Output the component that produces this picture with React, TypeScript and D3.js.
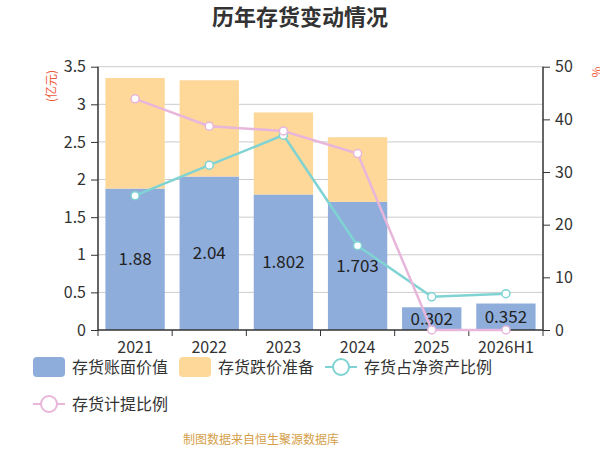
import React, { useEffect, useRef } from "react";
import * as d3 from "d3";

const categories = ["2021", "2022", "2023", "2024", "2025", "2026H1"];
const bookValue = [1.88, 2.04, 1.802, 1.703, 0.302, 0.352];
const impairment = [1.47, 1.28, 1.09, 0.86, 0, 0];
const netAssetRatio = [25.5, 31.3, 37.0, 16.0, 6.3, 6.9];
const provisionRatio = [43.9, 38.7, 37.8, 33.5, 0, 0];
const leftTicks = [0, 0.5, 1, 1.5, 2, 2.5, 3, 3.5];
const rightTicks = [0, 10, 20, 30, 40, 50];

const FONT = "'Noto Sans CJK SC', 'Noto Sans', sans-serif";
const BLUE = "#8eaddb";
const ORANGE = "#fed899";
const TEAL = "#7fd3d3";
const PINK = "#e8b6da";

const App = () => {
  const svgRef = useRef<SVGSVGElement>(null);
  const svgWidth = 600;
  const svgHeight = 450;

  useEffect(() => {
    const MARGIN = { TOP: 66.7, LEFT: 98, RIGHT: 57, BOTTOM: 120 };
    const svg = d3.select(svgRef.current);
    svg.selectAll("*").remove();
    const bottom = svgHeight - MARGIN.BOTTOM;
    const right = svgWidth - MARGIN.RIGHT;

    // category slots fill the axis; bars take 80% of each slot
    const x = d3
      .scaleBand()
      .domain(categories)
      .range([MARGIN.LEFT, right])
      .paddingInner(0.2)
      .paddingOuter(0.1);
    const y = d3.scaleLinear().domain([0, 3.5]).range([bottom, MARGIN.TOP]);
    const y2 = d3.scaleLinear().domain([0, 50]).range([bottom, MARGIN.TOP]);

    // title
    svg
      .append("text")
      .attr("x", 300)
      .attr("y", 25)
      .attr("text-anchor", "middle")
      .attr("font-size", 22)
      .attr("font-weight", "bold")
      .attr("fill", "#333")
      .attr("font-family", FONT)
      .text("历年存货变动情况");

    // grid
    svg
      .append("g")
      .selectAll("line")
      .data(leftTicks.slice(1))
      .enter()
      .append("line")
      .attr("x1", MARGIN.LEFT)
      .attr("x2", right)
      .attr("y1", (d) => y(d))
      .attr("y2", (d) => y(d))
      .attr("stroke", "#ccc")
      .attr("stroke-width", 1);

    // bars
    const bars = svg.append("g");
    bars
      .selectAll("rect.book")
      .data(categories)
      .enter()
      .append("rect")
      .attr("x", (d) => x(d)!)
      .attr("width", x.bandwidth())
      .attr("y", (_, i) => y(bookValue[i]))
      .attr("height", (_, i) => bottom - y(bookValue[i]))
      .attr("fill", BLUE);
    bars
      .selectAll("rect.imp")
      .data(categories)
      .enter()
      .append("rect")
      .attr("x", (d) => x(d)!)
      .attr("width", x.bandwidth())
      .attr("y", (_, i) => y(bookValue[i] + impairment[i]))
      .attr("height", (_, i) => y(bookValue[i]) - y(bookValue[i] + impairment[i]))
      .attr("fill", ORANGE);

    bars
      .selectAll("text")
      .data(categories)
      .enter()
      .append("text")
      .attr("x", (d) => x(d)! + x.bandwidth() / 2)
      .attr("y", (_, i) => y(bookValue[i] / 2))
      .attr("dy", "0.35em")
      .attr("text-anchor", "middle")
      .attr("font-size", 17)
      .attr("fill", "#222")
      .attr("font-family", FONT)
      .text((_, i) => String(bookValue[i]));

    // left axis
    const left = svg.append("g").attr("transform", `translate(${MARGIN.LEFT},0)`);
    left.call(d3.axisLeft(y).tickValues(leftTicks).tickSize(7).tickPadding(5).tickFormat((d) => String(d)));
    left.select(".domain").attr("stroke", "#333").attr("stroke-width", 1.5).attr("d", `M0,${bottom}V${MARGIN.TOP}`);
    left.selectAll("line").attr("stroke", "#333");
    left.selectAll("text").attr("font-size", 16).attr("fill", "#333").attr("font-family", FONT);

    // right axis
    const rightAx = svg.append("g").attr("transform", `translate(${right},0)`);
    rightAx.call(d3.axisRight(y2).tickValues(rightTicks).tickSize(7).tickPadding(5));
    rightAx.select(".domain").attr("stroke", "#333").attr("stroke-width", 1.5).attr("d", `M0,${bottom}V${MARGIN.TOP}`);
    rightAx.selectAll("line").attr("stroke", "#333");
    rightAx.selectAll("text").attr("font-size", 16).attr("fill", "#333").attr("font-family", FONT);

    // bottom axis
    const bx = svg.append("g").attr("transform", `translate(0,${bottom})`);
    bx.append("line").attr("x1", MARGIN.LEFT).attr("x2", right).attr("stroke", "#333").attr("stroke-width", 1.5);
    const slot = (right - MARGIN.LEFT) / categories.length;
    bx.selectAll("line.tick")
      .data(d3.range(categories.length + 1))
      .enter()
      .append("line")
      .attr("x1", (i) => MARGIN.LEFT + i * slot)
      .attr("x2", (i) => MARGIN.LEFT + i * slot)
      .attr("y1", 0)
      .attr("y2", 6)
      .attr("stroke", "#333");
    bx.selectAll("text")
      .data(categories)
      .enter()
      .append("text")
      .attr("x", (d) => x(d)! + x.bandwidth() / 2)
      .attr("y", 23)
      .attr("text-anchor", "middle")
      .attr("font-size", 16)
      .attr("fill", "#333")
      .attr("font-family", FONT)
      .text((d) => d);

    // units
    svg
      .append("text")
      .attr("transform", `translate(56,86) rotate(-90)`)
      .attr("text-anchor", "middle")
      .attr("font-size", 12)
      .attr("fill", "#ec5a3c")
      .attr("font-family", FONT)
      .text("(亿元)");
    svg
      .append("text")
      .attr("transform", `translate(601,72) rotate(-90)`)
      .attr("text-anchor", "middle")
      .attr("font-size", 12)
      .attr("fill", "#ec5a3c")
      .attr("font-family", FONT)
      .text("%");

    // lines
    const drawLine = (vals: number[], color: string) => {
      const g = svg.append("g");
      const line = d3
        .line<number>()
        .x((_, i) => x(categories[i])! + x.bandwidth() / 2)
        .y((d) => y2(d));
      g.append("path").attr("d", line(vals)).attr("fill", "none").attr("stroke", color).attr("stroke-width", 2.5);
      g.selectAll("circle")
        .data(vals)
        .enter()
        .append("circle")
        .attr("cx", (_, i) => x(categories[i])! + x.bandwidth() / 2)
        .attr("cy", (d) => y2(d))
        .attr("r", 4)
        .attr("fill", "#fff")
        .attr("stroke", color)
        .attr("stroke-width", 1.5);
    };
    drawLine(netAssetRatio, TEAL);
    drawLine(provisionRatio, PINK);

    // legend
    const legend = svg.append("g").attr("font-family", FONT).attr("font-size", 16).attr("fill", "#333");
    const items = [
      { name: "存货账面价值", type: "rect", color: BLUE, x: 33, y: 367 },
      { name: "存货跌价准备", type: "rect", color: ORANGE, x: 179, y: 367 },
      { name: "存货占净资产比例", type: "line", color: TEAL, x: 325, y: 367 },
      { name: "存货计提比例", type: "line", color: PINK, x: 33, y: 404 },
    ];
    items.forEach((it) => {
      if (it.type === "rect") {
        legend.append("rect").attr("x", it.x).attr("y", it.y - 10).attr("width", 32).attr("height", 20).attr("rx", 4).attr("fill", it.color);
      } else {
        legend.append("line").attr("x1", it.x).attr("x2", it.x + 32).attr("y1", it.y).attr("y2", it.y).attr("stroke", it.color).attr("stroke-width", 2);
        legend.append("circle").attr("cx", it.x + 16).attr("cy", it.y).attr("r", 8).attr("fill", "#fff").attr("stroke", it.color).attr("stroke-width", 2);
      }
      legend.append("text").attr("x", it.x + 39).attr("y", it.y).attr("dy", "0.35em").attr("fill", "#333").text(it.name);
    });

    // footer
    svg
      .append("text")
      .attr("x", 261)
      .attr("y", 444)
      .attr("text-anchor", "middle")
      .attr("font-size", 12)
      .attr("fill", "#d4a04a")
      .attr("font-family", FONT)
      .text("制图数据来自恒生聚源数据库");
  }, []);

  return (
    <svg
      ref={svgRef}
      width={svgWidth}
      height={svgHeight}
      style={{ position: "absolute", left: 0, top: 0, background: "#fff" }}
    />
  );
};

export default App;
